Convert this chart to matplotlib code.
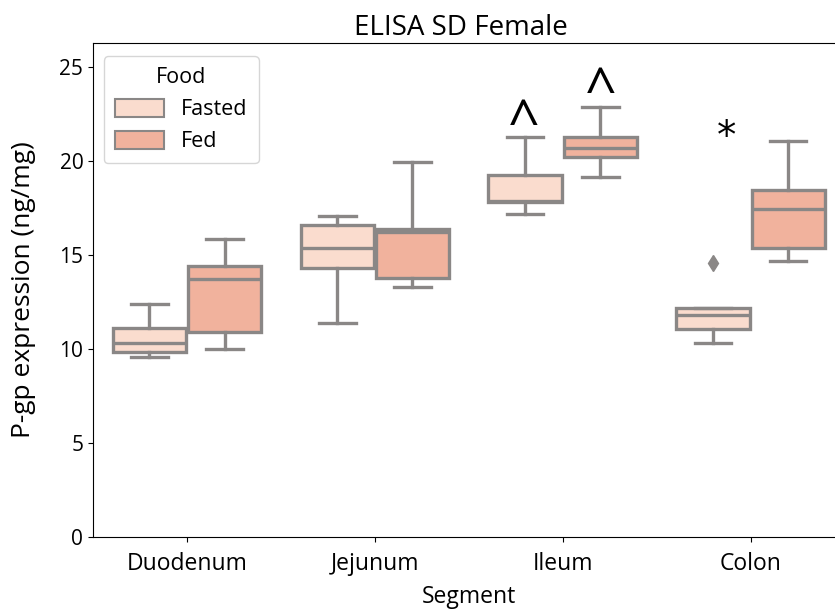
import matplotlib

matplotlib.use("Agg")
import matplotlib.pyplot as plt
from matplotlib.patches import Patch

segments = ["Duodenum", "Jejunum", "Ileum", "Colon"]
foods = ["Fasted", "Fed"]

# box statistics (ng/mg)
fasted_whislo = [9.6, 11.4, 17.2, 10.3]
fasted_q1 = [9.85, 14.3, 17.8, 11.05]
fasted_med = [10.3, 15.35, 17.9, 11.8]
fasted_q3 = [11.1, 16.6, 19.25, 12.2]
fasted_whishi = [12.4, 17.1, 21.3, 12.2]
fasted_fliers = [[], [], [], [14.6]]

fed_whislo = [10.0, 13.3, 19.15, 14.7]
fed_q1 = [10.9, 13.8, 20.2, 15.35]
fed_med = [13.75, 16.2, 20.7, 17.45]
fed_q3 = [14.4, 16.4, 21.3, 18.45]
fed_whishi = [15.85, 19.95, 22.85, 21.05]
fed_fliers = [[], [], [], []]

marks = ["^", "^", "*"]
mark_x = [1.79, 2.2, 2.87]
mark_y = [21.9, 23.6, 21.3]

colors = {"Fasted": "#fadcce", "Fed": "#f1b29d"}
edge = "#8a8786"

plt.rcParams["font.family"] = ["Open Sans", "DejaVu Sans"]


def make_stats(whislo, q1, med, q3, whishi, fliers):
    return [
        {"whislo": a, "q1": b, "med": c, "q3": d, "whishi": e, "fliers": f}
        for a, b, c, d, e, f in zip(whislo, q1, med, q3, whishi, fliers)
    ]


stats = {
    "Fasted": make_stats(fasted_whislo, fasted_q1, fasted_med, fasted_q3, fasted_whishi, fasted_fliers),
    "Fed": make_stats(fed_whislo, fed_q1, fed_med, fed_q3, fed_whishi, fed_fliers),
}

fig = plt.figure(figsize=(8.35, 6.1), dpi=100)
# the reference is cropped on the right, so the axes runs past the edge
ax = fig.add_axes([0.1114, 0.1197, 0.9, 0.8098])

offsets = {"Fasted": -0.2, "Fed": 0.2}
for food in foods:
    positions = [i + offsets[food] for i in range(len(segments))]
    ax.bxp(
        stats[food],
        positions=positions,
        widths=0.39,
        patch_artist=True,
        boxprops=dict(facecolor=colors[food], edgecolor=edge, linewidth=2.4),
        medianprops=dict(color=edge, linewidth=2.4),
        whiskerprops=dict(color=edge, linewidth=2.4),
        capprops=dict(color=edge, linewidth=2.4),
        flierprops=dict(marker="d", markerfacecolor=edge, markeredgecolor=edge, markersize=8),
        manage_ticks=False,
    )

for m, x, y in zip(marks, mark_x, mark_y):
    size = 40 if m == "^" else 28
    fam = "Open Sans" if m == "^" else "DejaVu Sans"
    ax.text(x, y, m, ha="center", va="center", fontsize=size, color="black", family=fam)

ax.set_xlim(-0.5, 3.5)
ax.set_ylim(0, 26.28)
ax.set_xticks(range(len(segments)))
ax.set_xticklabels(segments, fontsize=16.5)
ax.tick_params(axis="x", pad=7)
ax.set_yticks([0, 5, 10, 15, 20, 25])
ax.tick_params(axis="y", labelsize=15)
ax.set_xlabel("Segment", fontsize=16.5, labelpad=7)
ax.set_ylabel("P-gp expression (ng/mg)", fontsize=19, labelpad=17)
ax.set_title("ELISA SD Female", fontsize=20, x=0.49, pad=6)

handles = [Patch(facecolor=colors[f], edgecolor=edge, linewidth=1.5) for f in foods]
leg = ax.legend(handles, foods, title="Food", loc="upper left", fontsize=15.5, title_fontsize=15.5,
                handlelength=2.3, handleheight=0.9, borderpad=0.5, bbox_to_anchor=(0.0, 0.995))

fig.savefig("out.png", dpi=100)
